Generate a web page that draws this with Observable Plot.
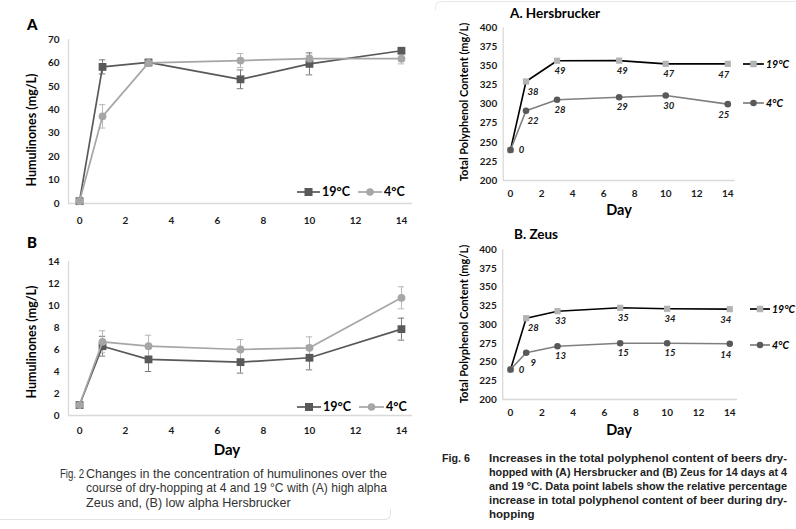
<!DOCTYPE html>
<html><head><meta charset="utf-8">
<script src="https://cdn.jsdelivr.net/npm/d3@7"></script>
<script src="https://cdn.jsdelivr.net/npm/@observablehq/plot@0.6"></script>
<style>
body{margin:0;background:#fff;}
#root{position:relative;width:796px;height:529px;overflow:hidden;font-family:Lato,sans-serif;color:#000;}
.abs{position:absolute;white-space:nowrap;}
.vc{transform:translateY(-50%);}
.cc{transform:translate(-50%,-50%);}
.rot{transform:translate(-50%,-50%) rotate(-90deg);}
.capline{position:absolute;white-space:nowrap;transform-origin:0 50%;font-family:"Liberation Sans",Arial,sans-serif;}
</style></head>
<body><div id="root"></div>
<script>
// ---------- data ----------
const days = [0, 1, 3, 7, 10, 14];
const xTicks = [0, 2, 4, 6, 8, 10, 12, 14];
// Fig. 2 (A) high alpha Zeus - humulinones mg/L
const humA19 = [1, 58.3, 60.2, 53, 59.6, 65.2];
const humA19err = [0, 3, 1, 4, 4.7, 1];
const humA4 = [1, 37.2, 60, 61, 61.8, 61.8];
const humA4err = [0, 5, 1.5, 3, 1.5, 2.2];
const humATicks = [0, 10, 20, 30, 40, 50, 60, 70];
// Fig. 2 (B) low alpha Hersbrucker
const humB19 = [0.95, 6.3, 5.1, 4.85, 5.25, 7.85];
const humB19err = [0, 0.9, 1.1, 1.0, 1.1, 1.0];
const humB4 = [0.95, 6.7, 6.3, 6.0, 6.15, 10.7];
const humB4err = [0, 1.0, 1.0, 0.9, 1.0, 1.0];
const humBTicks = [0, 2, 4, 6, 8, 10, 12, 14];
// Fig. 6 total polyphenol content mg/L
const tpcTicks = [200, 225, 250, 275, 300, 325, 350, 375, 400];
const tpcH19 = [240, 329.7, 356.8, 357, 352.8, 352.8];
const tpcH4 = [240, 291.3, 305.7, 309, 311.3, 300];
const pctH19 = [0, 38, 49, 49, 47, 47];
const pctH4 = [0, 22, 28, 29, 30, 25];
const tpcZ19 = [240, 308.6, 318, 322.5, 321.2, 320.7];
const tpcZ4 = [240, 262.4, 271.2, 275.2, 275.2, 274.4];
const pctZ19 = [0, 28, 33, 35, 34, 34];
const pctZ4 = [0, 9, 13, 15, 15, 14];
const seriesNames = ["19°C", "4°C"];

const root = document.getElementById("root");
function place(el, left, top) {
  el.style.position = "absolute"; el.style.left = left + "px"; el.style.top = top + "px";
  root.appendChild(el);
}
function txt(html, left, top, cls, style) {
  const d = document.createElement("div");
  d.className = "abs " + cls; d.innerHTML = html;
  d.style.left = left + "px"; d.style.top = top + "px";
  Object.assign(d.style, style || {});
  root.appendChild(d); return d;
}
const rows = (vals, errs, pcts) => days.map((d, i) => ({day: d, v: vals[i], e: errs ? errs[i] : 0, p: pcts ? String(pcts[i]) : ""}));

function errMarks(data, color) {
  const f = data.filter(d => d.e > 0);
  return [
    Plot.ruleX(f, {x: "day", y1: d => d.v - d.e, y2: d => d.v + d.e, stroke: color, strokeWidth: 1}),
    Plot.ruleY(f, {x1: d => d.day - 0.14, x2: d => d.day + 0.14, y: d => d.v + d.e, stroke: color, strokeWidth: 1}),
    Plot.ruleY(f, {x1: d => d.day - 0.14, x2: d => d.day + 0.14, y: d => d.v - d.e, stroke: color, strokeWidth: 1})
  ];
}

function humPanel(v19, e19, v4, e4, yTicks, h, mT, mB, padX) {
  const d19 = rows(v19, e19), d4 = rows(v4, e4);
  const xd = [-0.48, 14.48];
  return Plot.plot({
    width: 430, height: h, marginLeft: 68, marginRight: 18, marginTop: mT, marginBottom: mB,
    x: {domain: xd}, y: {domain: [yTicks[0], yTicks[yTicks.length - 1]]},
    style: {fontFamily: "Lato", fontSize: "10px", fontWeight: "700", color: "#1a1a1a", background: "transparent", overflow: "visible"},
    marks: [
      Plot.ruleY([yTicks[0]], {stroke: "#d9d9d9", strokeWidth: 1.3}),
      Plot.ruleX([xd[0]], {stroke: "#d9d9d9", strokeWidth: 1.3}),
      Plot.axisX({ticks: xTicks, tickSize: 0, tickPadding: padX, label: null}),
      Plot.axisY({ticks: yTicks, tickSize: 0, tickPadding: 9, label: null}),
      ...errMarks(d19, "#7a7a7a"),
      ...errMarks(d4, "#b8b8b8"),
      Plot.line(d19, {x: "day", y: "v", stroke: "#595959", strokeWidth: 1.7}),
      Plot.dot(d19, {x: "day", y: "v", symbol: "square", r: 4.4, fill: "#595959"}),
      Plot.line(d4, {x: "day", y: "v", stroke: "#a6a6a6", strokeWidth: 1.7}),
      Plot.dot(d4, {x: "day", y: "v", symbol: "circle", r: 3.9, fill: "#a6a6a6"})
    ]
  });
}

function labelMarks(data, opts) {
  return [
    Plot.text(data.filter(d => d.day === 1), {x: "day", y: "v", text: "p", dx: 7, dy: 10, ...opts}),
    Plot.text(data.filter(d => d.day > 1 && d.day < 14), {x: "day", y: "v", text: "p", dx: 3, dy: 10, ...opts}),
    Plot.text(data.filter(d => d.day === 14), {x: "day", y: "v", text: "p", dx: -4, dy: 11, ...opts})
  ];
}

function tpcPanel(v19, v4, p19, p4, xd, mL, mR, mT, mB) {
  const d19 = rows(v19, null, p19), d4 = rows(v4, null, p4);
  const lab = {fontSize: 9.5, fontWeight: "bold", fontStyle: "italic", fill: "#1a1a1a"};
  return Plot.plot({
    width: 356, height: 220, marginLeft: mL, marginRight: mR, marginTop: mT, marginBottom: mB,
    x: {domain: xd}, y: {domain: [200, 400]},
    style: {fontFamily: "Lato", fontSize: "10px", fontWeight: "700", color: "#1a1a1a", background: "transparent", overflow: "visible"},
    marks: [
      Plot.ruleY([200], {stroke: "#d9d9d9", strokeWidth: 1.3}),
      Plot.ruleX([xd[0]], {stroke: "#d9d9d9", strokeWidth: 1.3}),
      Plot.axisX({ticks: xTicks, tickSize: 0, tickPadding: 9, label: null}),
      Plot.axisY({ticks: tpcTicks, tickSize: 0, tickPadding: 6, label: null}),
      Plot.line(d19, {x: "day", y: "v", stroke: "#000", strokeWidth: 1.6}),
      Plot.dot(d19, {x: "day", y: "v", symbol: "square", r: 3.5, fill: "#b3b3b3"}),
      Plot.line(d4, {x: "day", y: "v", stroke: "#7f7f7f", strokeWidth: 1.6}),
      Plot.dot(d4, {x: "day", y: "v", symbol: "circle", r: 3.3, fill: "#595959"}),
      ...labelMarks(d19, lab),
      ...labelMarks(d4, lab),
      Plot.text(d4.filter(d => d.day === 0), {x: "day", y: "v", text: "p", dx: 11, dy: 0, ...lab})
    ]
  });
}

// ---------- Fig. 2 panels ----------
place(humPanel(humA19, humA19err, humA4, humA4err, humATicks, 235, 39, 32, 13), 0, 0);
place(humPanel(humB19, humB19err, humB4, humB4err, humBTicks, 230, 31, 45, 11), 0, 230);
// ---------- Fig. 6 panels ----------
place(tpcPanel(tpcH19, tpcH4, pctH19, pctH4, [-0.47, 14.47], 62.7, 61.4, 27.3, 40), 440, 0);
place(tpcPanel(tpcZ19, tpcZ4, pctZ19, pctZ4, [-0.5, 14.5], 62.2, 58.9, 29.3, 41), 440, 220);

// ---------- legends ----------
function legend(left, top, lineColor, shape, fill, size, label, italic, fontSize, lineLen) {
  const w = lineLen;
  const sym = shape === "square"
    ? `<rect x="${w/2 - size/2}" y="${6 - size/2}" width="${size}" height="${size}" fill="${fill}"/>`
    : `<circle cx="${w/2}" cy="6" r="${size/2}" fill="${fill}"/>`;
  txt(`<svg width="${w}" height="12" style="vertical-align:middle"><line x1="0" y1="6" x2="${w}" y2="6" stroke="${lineColor}" stroke-width="1.7"/>${sym}</svg><span style="vertical-align:middle;margin-left:2px">${label}</span>`,
    left, top, "vc", {fontWeight: "700", fontSize: fontSize + "px", fontStyle: italic ? "italic" : "normal", lineHeight: "12px", display: "flex", alignItems: "center"});
}
// Fig 2 legends
legend(297, 192, "#595959", "square", "#595959", 8, seriesNames[0], false, 12.5, 23);
legend(358, 192, "#a6a6a6", "circle", "#a6a6a6", 7.5, seriesNames[1], false, 12.5, 24);
legend(297, 407, "#595959", "square", "#595959", 8, seriesNames[0], false, 12.5, 24);
legend(359, 407, "#a6a6a6", "circle", "#a6a6a6", 7.5, seriesNames[1], false, 12.5, 25);
// Fig 6 legends
legend(743, 64, "#000", "square", "#b3b3b3", 6.5, seriesNames[0], true, 10.5, 21);
legend(743, 103, "#7f7f7f", "circle", "#595959", 6.5, seriesNames[1], true, 10.5, 21);
legend(750, 309, "#000", "square", "#b3b3b3", 6.5, seriesNames[0], true, 10.5, 20);
legend(750, 345, "#7f7f7f", "circle", "#595959", 6.5, seriesNames[1], true, 10.5, 20);

// ---------- titles / axis labels ----------
txt("A", 27, 24, "vc", {fontWeight: "900", fontSize: "15px"});
txt("B", 27, 242, "vc", {fontWeight: "900", fontSize: "15px"});
txt("Humulinones (mg/L)", 31, 130, "rot", {fontWeight: "700", fontSize: "12.5px"});
txt("Humulinones (mg/L)", 31, 342, "rot", {fontWeight: "700", fontSize: "12.5px"});
txt("Day", 227, 449, "cc", {fontWeight: "700", fontSize: "15px"});

txt("A. Hersbrucker", 510, 13, "vc", {fontWeight: "700", fontSize: "13.5px"});
txt("B. Zeus", 514, 234, "vc", {fontWeight: "700", fontSize: "13.5px"});
txt("Total Polyphenol Content (mg/L)", 463, 102, "rot", {fontWeight: "700", fontSize: "11px"});
txt("Total Polyphenol Content (mg/L)", 463, 324, "rot", {fontWeight: "700", fontSize: "11px"});
txt("Day", 619, 209, "cc", {fontWeight: "700", fontSize: "14.5px"});
txt("Day", 619, 429, "cc", {fontWeight: "700", fontSize: "14.5px"});

// ---------- captions (condensed to fit the column, justified) ----------
const capEls = [];
function capLine(text, left, cy, fs, weight, color, target, scaleFrom) {
  const d = document.createElement("div");
  d.className = "capline"; d.textContent = text;
  Object.assign(d.style, {left: left + "px", top: (cy - fs * 0.6) + "px", fontSize: fs + "px", lineHeight: (fs * 1.2) + "px", fontWeight: weight, color: color});
  root.appendChild(d);
  capEls.push({d, target, scaleFrom});
  return capEls.length - 1;
}
function caption(label, labelLeft, labelWidth, left, cy0, lh, width, lines, fs, weight, color) {
  const first = capLine(lines[0], left, cy0, fs, weight, color, width, null);
  lines.slice(1).forEach((l, i) => {
    const last = i === lines.length - 2;
    capLine(l, left, cy0 + lh * (i + 1), fs, weight, color, last ? null : width, last ? first : null);
  });
  capLine(label, labelLeft, cy0, fs, weight, color, labelWidth, null);
}
caption("Fig. 2", 60, 24, 86, 473.3, 14.6, 301, [
  "Changes in the concentration of humulinones over the",
  "course of dry-hopping at 4 and 19 °C with (A) high alpha",
  "Zeus and, (B) low alpha Hersbrucker"
], 13, "400", "#333");
caption("Fig. 6", 442, 28, 489, 459, 14, 298, [
  "Increases in the total polyphenol content of beers dry-",
  "hopped with (A) Hersbrucker and (B) Zeus for 14 days at 4",
  "and 19 °C. Data point labels show the relative percentage",
  "increase in total polyphenol content of beer during dry-",
  "hopping"
], 11.5, "700", "#222");
function fitCaptions() {
  const scales = capEls.map(() => 1);
  capEls.forEach((c, i) => {
    c.d.style.transform = "none";
    if (c.target) scales[i] = c.target / c.d.getBoundingClientRect().width;
  });
  capEls.forEach((c, i) => {
    if (!c.target && c.scaleFrom !== null) scales[i] = scales[c.scaleFrom];
    c.d.style.transform = `scaleX(${scales[i]})`;
  });
}
fitCaptions();
if (document.fonts && document.fonts.ready) document.fonts.ready.then(fitCaptions);

// faint page box edges
const b1 = document.createElement("div");
Object.assign(b1.style, {position: "absolute", left: "-10px", top: "509px", width: "400px", height: "10px", borderBottom: "1px solid #e3e3e3", borderRight: "1px solid #e3e3e3", borderBottomRightRadius: "6px"});
root.appendChild(b1);
const b2 = document.createElement("div");
Object.assign(b2.style, {position: "absolute", left: "435px", top: "1px", width: "400px", height: "8px", borderTop: "1px solid #e8e8e8", borderLeft: "1px solid #e8e8e8", borderTopLeftRadius: "6px"});
root.appendChild(b2);
</script>
</body></html>
